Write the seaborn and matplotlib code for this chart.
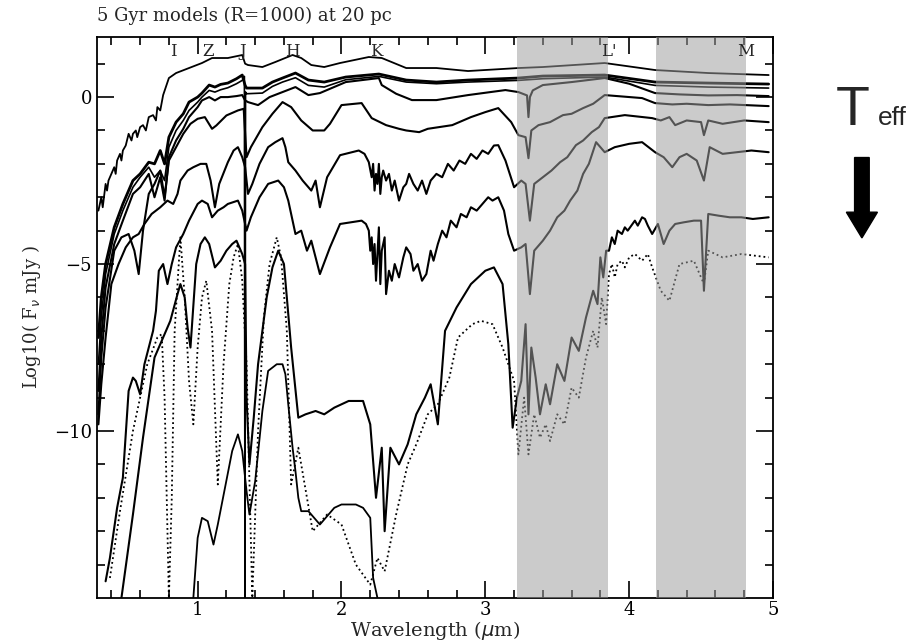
import matplotlib
matplotlib.use("Agg")
import matplotlib.pyplot as plt
import seaborn as sns
import pandas as pd
from matplotlib.patches import FancyArrow

sns.set_theme(style="ticks")
plt.rcParams["font.family"] = ["DejaVu Serif"]

# ---------------- data ----------------
title = "5 Gyr models (R=1000) at 20 pc"
band_labels = ["I", "Z", "J", "H", "K", "L'", "M"]
band_label_wl = [0.83, 1.07, 1.31, 1.66, 2.24, 3.86, 4.81]
shade_lo = [3.22, 4.19]
shade_hi = [3.85, 4.81]

wl_c1 = [0.31, 0.33, 0.34, 0.36, 0.37, 0.38, 0.4, 0.42, 0.43, 0.44, 0.46, 0.47, 0.48, 0.5, 0.52, 0.54, 0.55,
         0.57, 0.58, 0.6, 0.62, 0.64, 0.66, 0.69, 0.71, 0.72, 0.74, 0.76, 0.8, 0.85, 0.94, 1.03, 1.1, 1.21,
         1.31, 1.33, 1.35, 1.45, 1.54, 1.66, 1.72, 1.79, 1.88, 1.99, 2.19, 2.28, 2.45, 2.66, 2.88, 3.23, 3.4,
         3.83, 4.18, 4.55, 4.97]
fl_c1 = [-3.4, -3.0, -3.3, -2.6, -2.8, -2.5, -2.3, -2.1, -2.3, -1.9, -1.7, -1.9, -1.6, -1.45, -1.1, -1.3, -1.1,
         -1.0, -1.2, -0.9, -0.84, -1.0, -0.6, -0.54, -0.7, -0.3, -0.4, 0.06, 0.57, 0.72, 0.87, 1.02, 1.17, 1.17,
         1.26, 1.0, 0.96, 0.9, 1.05, 1.26, 1.17, 0.96, 0.9, 1.02, 1.2, 1.17, 0.87, 0.87, 0.78, 0.87, 0.9,
         1.02, 0.81, 0.72, 0.66]

wl_c2 = [0.31, 0.33, 0.36, 0.42, 0.48, 0.55, 0.6, 0.66, 0.7, 0.74, 0.77, 0.8, 0.85, 0.9, 0.94, 1.0, 1.03, 1.08,
         1.12, 1.16, 1.21, 1.27, 1.31, 1.33, 1.34, 1.45, 1.52, 1.59, 1.68, 1.77, 1.88, 2.03, 2.26, 2.45,
         2.66, 2.88, 3.23, 3.4, 3.83, 4.18, 4.55, 4.97]
fl_c2 = [-7.2, -6.0, -5.0, -3.9, -3.2, -2.5, -2.3, -1.95, -2.0, -1.6, -2.0, -1.2, -0.75, -0.5, -0.15, 0.0, 0.12, 0.36,
         0.3, 0.38, 0.42, 0.55, 0.66, 0.35, 0.27, 0.27, 0.45, 0.57, 0.72, 0.51, 0.45, 0.6, 0.69, 0.51,
         0.45, 0.51, 0.57, 0.63, 0.66, 0.45, 0.42, 0.39]

wl_c3 = [0.31, 0.33, 0.36, 0.42, 0.48, 0.55, 0.6, 0.66, 0.7, 0.74, 0.77, 0.8, 0.85, 0.9, 0.94, 1.0, 1.03, 1.08,
         1.12, 1.16, 1.21, 1.27, 1.31, 1.325, 1.329, 1.333, 1.34, 1.45, 1.52, 1.59, 1.68, 1.77, 1.88, 2.03, 2.26,
         2.45, 2.66, 2.88, 3.23, 3.4, 3.83, 4.18, 4.55, 4.97]
fl_c3 = [-8.0, -6.6, -5.3, -4.1, -3.4, -2.7, -2.4, -2.1, -2.4, -2.2, -2.5, -1.5, -1.0, -0.7, -0.4, -0.15, 0.0, 0.2,
         0.15, 0.22, 0.28, 0.4, 0.5, 0.62, -15.5, 0.15, 0.1, 0.12, 0.32, 0.45, 0.58, 0.35, 0.3, 0.52, 0.62,
         0.45, 0.4, 0.45, 0.5, 0.55, 0.6, 0.35, 0.3, 0.27]

wl_c4 = [0.31, 0.33, 0.36, 0.42, 0.48, 0.55, 0.6, 0.66, 0.7, 0.74, 0.77, 0.8, 0.85, 0.9, 0.94, 1.0, 1.03, 1.08,
         1.12, 1.16, 1.21, 1.27, 1.31, 1.33, 1.35, 1.42, 1.5, 1.59, 1.68, 1.77, 1.85, 2.03, 2.26, 2.28,
         2.38, 2.49, 2.66, 2.88, 3.14, 3.23, 3.29, 3.3, 3.31, 3.33, 3.4, 3.6, 3.83, 4.0, 4.18, 4.35, 4.55,
         4.75, 4.97]
fl_c4 = [-8.8, -7.2, -5.7, -4.4, -3.7, -2.9, -2.7, -2.3, -3.0, -2.4, -3.1, -1.8, -1.3, -0.95, -0.6, -0.3, -0.1, 0.0,
         -0.1, 0.0, 0.0, 0.03, 0.06, -0.1, -0.15, -0.24, 0.0, 0.15, 0.3, 0.06, 0.12, 0.45, 0.57, 0.36,
         0.1, -0.09, -0.09, 0.06, 0.21, 0.15, 0.05, -0.6, 0.0, 0.2, 0.36, 0.45, 0.57, 0.4, 0.12, 0.08, 0.05,
         0.06, 0.03]

wl_c5 = [0.31, 0.33, 0.36, 0.42, 0.47, 0.52, 0.56, 0.59, 0.62, 0.66, 0.7, 0.74, 0.77, 0.8, 0.85, 0.9, 0.95, 1.0,
         1.05, 1.1, 1.13, 1.2, 1.28, 1.32, 1.34, 1.37, 1.45, 1.52, 1.59, 1.65, 1.72, 1.8, 1.88, 1.92, 2.0,
         2.14, 2.21, 2.31, 2.4, 2.45, 2.54, 2.6, 2.77, 2.9, 3.0, 3.09, 3.18, 3.23, 3.28, 3.3, 3.32, 3.37,
         3.45, 3.54, 3.6, 3.68, 3.75, 3.83, 4.09, 4.18, 4.3, 4.4, 4.55, 4.7, 4.97]
fl_c5 = [-9.5, -7.8, -6.3, -4.6, -4.2, -4.1, -4.6, -5.3, -4.0, -2.9, -2.6, -2.2, -3.0, -1.9, -1.5, -1.1, -0.8, -0.65,
         -0.6, -0.95, -0.85, -0.55, -0.4, -0.35, -1.8, -1.5, -0.9, -0.5, -0.15, -0.3, -0.7, -1.0, -1.0, -0.8, -0.24,
         -0.18, -0.63, -0.84, -0.95, -1.0, -1.05, -0.95, -0.84, -0.6, -0.45, -0.33, -0.75, -1.14, -1.2, -1.83, -1.0, -0.84,
         -0.75, -0.54, -0.5, -0.33, -0.2, 0.06, -0.03, -0.18, -0.22, -0.2, -0.24, -0.22, -0.27]

wl_c6 = [0.31, 0.33, 0.36, 0.4, 0.45, 0.5, 0.55, 0.59, 0.63, 0.68, 0.74, 0.79, 0.83, 0.86, 0.88, 0.93, 0.97, 1.02, 1.06,
         1.09, 1.12, 1.15, 1.21, 1.25, 1.28, 1.31, 1.33, 1.35, 1.38, 1.43, 1.49, 1.54, 1.59, 1.61, 1.63, 1.68,
         1.73, 1.79, 1.82, 1.85, 1.9, 1.99, 2.12, 2.16, 2.19, 2.21, 2.22, 2.23, 2.24, 2.25, 2.26, 2.27, 2.28,
         2.29, 2.31, 2.33, 2.35, 2.37, 2.4, 2.43, 2.45, 2.47, 2.5, 2.53, 2.56, 2.59, 2.62, 2.66, 2.7, 2.74,
         2.78, 2.82, 2.86, 2.9, 2.94, 2.98, 3.02, 3.06, 3.09, 3.14, 3.2, 3.25, 3.28, 3.31, 3.34, 3.4, 3.46,
         3.52, 3.57, 3.63, 3.68, 3.74, 3.79, 3.83, 3.97, 4.16, 4.22, 4.28, 4.32, 4.4, 4.5, 4.52, 4.55, 4.65,
         4.8, 4.97]
fl_c6 = [-9.8, -8.6, -7.2, -5.6, -5.0, -4.5, -4.2, -4.1, -3.8, -3.5, -3.3, -3.1, -3.2, -2.9, -2.5, -2.2, -2.1, -2.0, -2.0,
         -2.5, -3.3, -2.6, -1.95, -1.6, -1.5, -1.8, -2.1, -2.9, -2.6, -2.0, -1.5, -1.35, -1.23, -1.5, -1.95, -2.2,
         -2.5, -2.8, -2.5, -3.3, -2.4, -1.74, -1.6, -1.7, -1.95, -2.4, -2.0, -2.8, -2.3, -2.6, -2.0, -2.9, -2.4,
         -2.2, -2.5, -2.3, -2.8, -2.5, -3.1, -2.7, -2.6, -2.3, -2.6, -2.8, -2.5, -2.9, -2.5, -2.3, -2.4, -2.0,
         -2.2, -1.9, -2.0, -1.7, -1.85, -1.6, -1.7, -1.45, -1.44, -1.9, -2.7, -2.5, -2.6, -3.7, -2.6, -2.4, -2.2,
         -1.95, -1.8, -1.44, -1.3, -1.05, -0.9, -0.63, -0.54, -0.63, -0.7, -0.6, -0.84, -0.7, -0.75, -1.14, -0.7, -0.8,
         -0.7, -0.75]

wl_c7 = [0.36, 0.39, 0.44, 0.48, 0.52, 0.55, 0.57, 0.6, 0.63, 0.69, 0.71, 0.73, 0.76, 0.79, 0.82, 0.85, 0.9,
         0.94, 1.0, 1.03, 1.07, 1.1, 1.14, 1.18, 1.21, 1.28, 1.31, 1.34, 1.37, 1.43, 1.49, 1.56, 1.6, 1.63,
         1.66, 1.68, 1.72, 1.76, 1.79, 1.85, 1.92, 1.99, 2.14, 2.17, 2.19, 2.2, 2.21, 2.22, 2.23, 2.24, 2.25,
         2.26, 2.27, 2.28, 2.3, 2.31, 2.33, 2.35, 2.37, 2.4, 2.43, 2.45, 2.48, 2.5, 2.53, 2.56, 2.59, 2.62,
         2.64, 2.67, 2.7, 2.73, 2.76, 2.8, 2.83, 2.87, 2.9, 2.94, 2.98, 3.02, 3.05, 3.09, 3.13, 3.16, 3.2,
         3.25, 3.28, 3.31, 3.34, 3.4, 3.45, 3.5, 3.55, 3.59, 3.64, 3.68, 3.72, 3.77, 3.8, 3.83, 3.9, 4.0,
         4.09, 4.18, 4.24, 4.3, 4.35, 4.4, 4.47, 4.52, 4.56, 4.65, 4.75, 4.85, 4.97]
fl_c7 = [-14.5, -13.8, -12.3, -11.4, -8.8, -8.4, -8.5, -8.9, -8.0, -7.0, -6.4, -5.2, -5.0, -5.6, -5.0, -4.5, -4.1,
         -3.7, -3.2, -3.1, -3.2, -3.6, -3.4, -3.3, -3.2, -3.1, -3.4, -4.0, -3.6, -3.0, -2.6, -2.5, -2.7, -3.1,
         -3.7, -4.1, -4.0, -4.6, -4.3, -5.3, -4.5, -3.8, -3.7, -3.8, -4.0, -4.6, -4.2, -5.0, -4.4, -5.5, -4.7,
         -3.9, -5.6, -4.6, -4.2, -5.9, -5.2, -5.5, -5.0, -5.4, -4.8, -4.5, -4.7, -5.2, -5.0, -5.5, -5.3, -4.6,
         -4.9, -4.4, -4.0, -4.2, -3.7, -3.9, -3.5, -3.6, -3.3, -3.4, -3.2, -3.0, -3.1, -3.0, -3.4, -4.1, -4.6,
         -4.5, -4.4, -5.9, -4.6, -4.3, -4.0, -3.6, -3.4, -3.1, -2.8, -2.3, -2.0, -1.35, -1.5, -1.65, -1.5, -1.4,
         -1.35, -1.65, -1.8, -2.1, -1.8, -1.7, -1.9, -2.5, -1.5, -1.7, -1.65, -1.6, -1.65]

wl_c8 = [0.47, 0.55, 0.62, 0.7, 0.76, 0.81, 0.86, 0.88, 0.91, 0.93, 0.95, 0.99, 1.02, 1.05, 1.08, 1.12, 1.16,
         1.2, 1.24, 1.27, 1.31, 1.33, 1.34, 1.36, 1.39, 1.42, 1.48, 1.52, 1.56, 1.6, 1.65, 1.7, 1.75, 1.82,
         1.88, 1.95, 2.05, 2.15, 2.2, 2.24, 2.28, 2.3, 2.34, 2.4, 2.46, 2.52, 2.58, 2.62, 2.67, 2.72, 2.8, 2.9,
         3.0, 3.06, 3.12, 3.16, 3.19, 3.22, 3.25, 3.28, 3.3, 3.32, 3.35, 3.38, 3.42, 3.45, 3.5, 3.55, 3.6,
         3.65, 3.7, 3.75, 3.78, 3.8, 3.82, 3.84, 3.86, 3.88, 3.9,
         3.92, 3.95, 3.97, 3.99, 4.04, 4.06, 4.09, 4.11, 4.13, 4.16, 4.2, 4.24, 4.28, 4.32, 4.38, 4.45, 4.5,
         4.52, 4.55, 4.62, 4.7, 4.78, 4.86, 4.97]
fl_c8 = [-15.0, -12.5, -10.2, -7.8, -7.2, -6.7, -5.9, -5.6, -6.0, -6.9, -7.5, -5.0, -4.4, -4.2, -4.4, -5.1, -4.9,
         -4.6, -4.4, -4.3, -4.7, -5.0, -9.0, -11.0, -9.6, -8.0, -6.0, -5.1, -4.6, -5.0, -7.5, -9.6, -9.5, -9.4,
         -9.5, -9.3, -9.1, -9.1, -9.8, -12.0, -10.5, -13.0, -10.5, -11.0, -10.4, -9.5, -9.0, -8.6, -9.8, -7.0, -6.3, -5.6,
         -5.2, -5.1, -5.6, -7.4, -9.9, -9.0, -8.5, -6.8, -9.5, -7.5, -8.4, -9.5, -8.6, -9.2, -8.0, -8.5, -7.2,
         -7.6, -6.6, -5.8, -6.2, -4.8, -5.4, -4.6, -4.6, -4.2, -4.4,
         -4.0, -4.1, -3.9, -4.0, -3.7, -3.85, -3.6, -3.65, -3.85, -4.1, -3.8, -4.4, -4.0, -3.8, -3.75, -3.7, -3.7,
         -5.8, -3.5, -3.55, -3.6, -3.6, -3.65, -3.6]

wl_c9 = [0.97, 1.0, 1.03, 1.07, 1.11, 1.14, 1.19, 1.24, 1.28, 1.31, 1.34, 1.36, 1.4, 1.45, 1.49, 1.55, 1.59,
         1.61, 1.63, 1.66, 1.68, 1.7, 1.72, 1.77, 1.85, 1.95, 2.0, 2.1, 2.15, 2.2, 2.22, 2.25]
fl_c9 = [-15.0, -13.2, -12.6, -12.7, -13.4, -12.8, -11.7, -10.6, -10.1, -10.6, -11.8, -12.5, -11.5, -9.4, -8.2, -8.0, -8.0,
         -8.3, -9.2, -10.5, -11.2, -12.0, -12.4, -12.4, -12.8, -12.3, -12.2, -12.2, -12.3, -12.6, -14.4, -15.0]

wl_c10 = [0.39, 0.46, 0.55, 0.65, 0.72, 0.75, 0.77, 0.79, 0.8, 0.82, 0.84, 0.88, 0.91, 0.94, 0.97, 1.0, 1.03, 1.06,
          1.1, 1.14, 1.18, 1.22, 1.25, 1.28, 1.31, 1.34, 1.38, 1.42, 1.46, 1.5, 1.55, 1.58, 1.62, 1.65, 1.7, 1.8,
          1.9, 2.0, 2.1, 2.2, 2.25, 2.3, 2.38, 2.46, 2.52, 2.6, 2.67, 2.75, 2.81, 2.91, 2.97, 3.05, 3.12, 3.2,
          3.23, 3.27, 3.3, 3.34, 3.38, 3.42, 3.45, 3.5, 3.55, 3.6, 3.65, 3.7, 3.75, 3.78, 3.81, 3.84,
          3.86, 3.88, 3.9, 3.92, 3.95, 3.97, 4.0, 4.04, 4.09, 4.13, 4.16, 4.22,
          4.28, 4.35, 4.45, 4.52, 4.55, 4.65, 4.78, 4.97]
fl_c10 = [-14.4, -12.4, -10.0, -8.0, -7.2, -7.1, -9.0, -13.0, -15.0, -12.0, -7.0, -4.2, -6.0, -8.5, -9.8, -7.5, -6.0, -5.5,
          -7.0, -11.6, -8.0, -5.6, -4.8, -4.4, -5.5, -8.0, -15.0, -10.0, -6.6, -5.0, -4.2, -4.8, -7.0, -11.6, -10.5, -13.0,
          -12.5, -12.8, -14.0, -14.6, -13.8, -14.2, -12.5, -11.0, -10.4, -9.5, -9.2, -8.4, -7.2, -6.8, -6.7, -6.8, -7.5, -8.5,
          -10.7, -9.0, -10.7, -9.5, -10.2, -9.8, -10.3, -9.5, -9.8, -8.7, -9.0, -7.8, -7.0, -7.5, -6.0, -6.8,
          -5.3, -5.0, -5.4, -5.0, -4.9, -5.1, -4.8, -4.7, -4.9, -4.7, -5.1, -5.8,
          -6.1, -5.0, -4.9, -5.6, -4.6, -4.8, -4.7, -4.8]

curves = [
    ("c1", wl_c1, fl_c1, "-", 1.3),
    ("c2", wl_c2, fl_c2, "-", 2.0),
    ("c3", wl_c3, fl_c3, "-", 1.2),
    ("c4", wl_c4, fl_c4, "-", 1.5),
    ("c5", wl_c5, fl_c5, "-", 1.5),
    ("c6", wl_c6, fl_c6, "-", 1.5),
    ("c7", wl_c7, fl_c7, "-", 1.5),
    ("c8", wl_c8, fl_c8, "-", 1.5),
    ("c9", wl_c9, fl_c9, "-", 1.3),
    ("c10", wl_c10, fl_c10, ":", 1.3),
]

# ---------------- figure ----------------
fig = plt.figure(figsize=(9.14, 6.43), dpi=100)
ax = fig.add_axes([0.1061, 0.070, 0.7396, 0.8725])

for name, wl, fl, ls, lw in curves:
    df = pd.DataFrame({"wl": wl, "fl": fl})
    sns.lineplot(data=df, x="wl", y="fl", ax=ax, color="black", linestyle=ls,
                 linewidth=lw, sort=False, estimator=None, zorder=2)

for lo, hi in zip(shade_lo, shade_hi):
    ax.axvspan(lo, hi, facecolor=(0.62, 0.62, 0.62), alpha=0.53, edgecolor="none", zorder=3)

ax.set_xlim(0.3, 5.0)
ax.set_ylim(-15.0, 1.8)
ax.set_xticks([1, 2, 3, 4, 5])
ax.set_xticks([0.4 + 0.2 * i for i in range(24)], minor=True)
ax.set_yticks([0, -5, -10])
ax.set_yticks(list(range(-14, 2)), minor=True)
ax.set_yticklabels(["0", "\u22125", "\u221210"])
ax.tick_params(which="both", direction="in", top=True, right=True, colors="black", labelsize=13)
ax.tick_params(axis="x", which="major", pad=2)
ax.tick_params(which="major", length=12, width=1.2)
ax.tick_params(which="minor", length=6, width=1.2)
for s in ax.spines.values():
    s.set_color("black")
    s.set_linewidth(1.3)
ax.set_xlabel("Wavelength ($\\mu$m)", fontsize=14, labelpad=0)
ax.set_ylabel("Log10( F$_\\nu$ mJy )", fontsize=13, labelpad=8)

for lab, w in zip(band_labels, band_label_wl):
    ax.text(w, 1.35, lab, ha="center", va="center", fontsize=12, zorder=5)

fig.text(0.1061, 0.975, title, ha="left", va="center", fontsize=13)

fig.text(0.914, 0.806, "T", ha="left", va="baseline", fontsize=40,
         family=["Liberation Sans", "DejaVu Sans"])
fig.text(0.960, 0.806, "eff", ha="left", va="baseline", fontsize=19,
         family=["Liberation Sans", "DejaVu Sans"])
arrow = FancyArrow(0.943, 0.755, 0, -0.125, width=0.016, head_width=0.034, head_length=0.04,
                   length_includes_head=True, transform=fig.transFigure, color="black")
fig.patches.append(arrow)

fig.savefig("out.png", dpi=100)
